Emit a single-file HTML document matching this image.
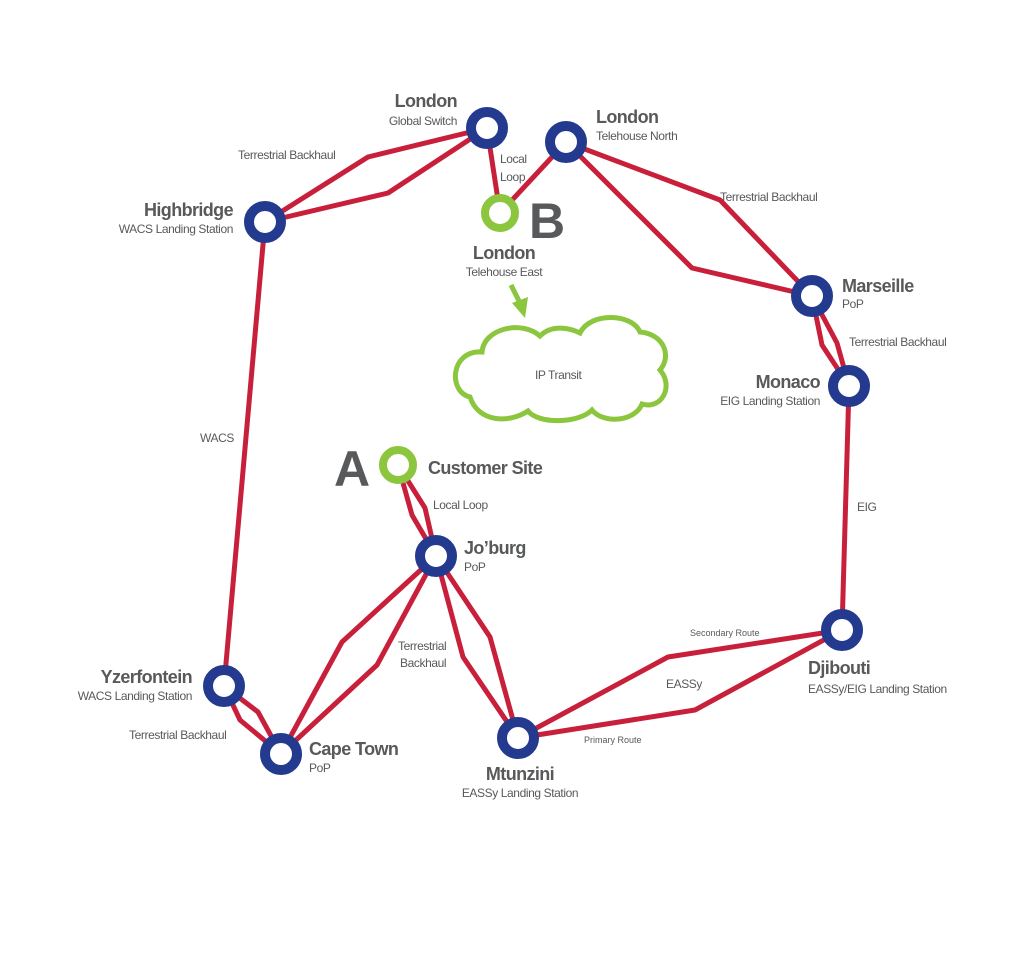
<!DOCTYPE html>
<html><head><meta charset="utf-8"><style>
html,body{margin:0;padding:0;background:#fff;}
svg{display:block;}
text{font-family:"Liberation Sans",sans-serif;fill:#58595b;}
.t{font-size:18px;font-weight:bold;letter-spacing:-0.6px;}
.s{font-size:12px;letter-spacing:-0.4px;}
.l{font-size:12px;letter-spacing:-0.4px;}
.r{fill:none;stroke:#c8203b;stroke-width:5;stroke-linejoin:round;}
.n{fill:#fff;stroke:#233a8e;stroke-width:10;}
.g{fill:#fff;stroke:#8cc63f;stroke-width:8;}
</style></head><body>
<svg width="1024" height="975" viewBox="0 0 1024 975" xmlns="http://www.w3.org/2000/svg">
<polyline class="r" points="487,128 368,157 265,222"/>
<polyline class="r" points="487,128 388,193 265,222"/>
<polyline class="r" points="487,128 500,213"/>
<polyline class="r" points="500,213 566,142"/>
<polyline class="r" points="566,142 720,200 812,296"/>
<polyline class="r" points="566,142 692,268 812,296"/>
<polyline class="r" points="812,296 837,343 849,386"/>
<polyline class="r" points="812,296 822,345 849,386"/>
<polyline class="r" points="849,386 842,630"/>
<polyline class="r" points="265,222 224,686"/>
<polyline class="r" points="224,686 258,712 281,754"/>
<polyline class="r" points="224,686 240,720 281,754"/>
<polyline class="r" points="398,465 412,515 436,556"/>
<polyline class="r" points="398,465 425,508 436,556"/>
<polyline class="r" points="436,556 342,642 281,754"/>
<polyline class="r" points="436,556 377,665 281,754"/>
<polyline class="r" points="436,556 463,657 518,738"/>
<polyline class="r" points="436,556 490,637 518,738"/>
<polyline class="r" points="518,738 668,657 842,630"/>
<polyline class="r" points="518,738 695,710 842,630"/>
<path d="M470,397 C448,392 450,350 482,352 C484,328 522,320 540,336 C552,324 570,328 580,333 C590,312 632,313 640,332 C664,334 672,356 660,370 C674,386 662,410 642,404 C635,422 603,424 592,410 C578,424 538,424 528,411 C508,424 478,422 470,397 Z" fill="#fff" stroke="#8cc63f" stroke-width="5"/>
<text class="s" x="535" y="379">IP Transit</text>
<line x1="511" y1="285" x2="520" y2="303" stroke="#8cc63f" stroke-width="5"/>
<polygon points="512,303 528,297 525,318" fill="#8cc63f"/>
<circle class="n" cx="487" cy="128" r="16"/>
<circle class="n" cx="566" cy="142" r="16"/>
<circle class="n" cx="265" cy="222" r="16"/>
<circle class="n" cx="812" cy="296" r="16"/>
<circle class="n" cx="849" cy="386" r="16"/>
<circle class="n" cx="436" cy="556" r="16"/>
<circle class="n" cx="224" cy="686" r="16"/>
<circle class="n" cx="281" cy="754" r="16"/>
<circle class="n" cx="518" cy="738" r="16"/>
<circle class="n" cx="842" cy="630" r="16"/>
<circle class="g" cx="500" cy="213" r="15"/>
<circle class="g" cx="398" cy="465" r="15"/>
<text x="529" y="238" style="font-size:50px;font-weight:bold;">B</text>
<text x="334" y="486" style="font-size:50px;font-weight:bold;">A</text>
<text class="t" x="457" y="107" text-anchor="end">London</text>
<text class="s" x="457" y="125" text-anchor="end">Global Switch</text>
<text class="t" x="596" y="123">London</text>
<text class="s" x="596" y="140">Telehouse North</text>
<text class="t" x="233" y="216" text-anchor="end">Highbridge</text>
<text class="s" x="233" y="233" text-anchor="end">WACS Landing Station</text>
<text class="t" x="504" y="259" text-anchor="middle">London</text>
<text class="s" x="504" y="276" text-anchor="middle">Telehouse East</text>
<text class="t" x="842" y="292">Marseille</text>
<text class="s" x="842" y="308">PoP</text>
<text class="t" x="820" y="388" text-anchor="end">Monaco</text>
<text class="s" x="820" y="405" text-anchor="end">EIG Landing Station</text>
<text class="t" x="428" y="474">Customer Site</text>
<text class="t" x="464" y="554">Jo’burg</text>
<text class="s" x="464" y="571">PoP</text>
<text class="t" x="192" y="683" text-anchor="end">Yzerfontein</text>
<text class="s" x="192" y="700" text-anchor="end">WACS Landing Station</text>
<text class="t" x="309" y="755">Cape Town</text>
<text class="s" x="309" y="772">PoP</text>
<text class="t" x="520" y="780" text-anchor="middle">Mtunzini</text>
<text class="s" x="520" y="797" text-anchor="middle">EASSy Landing Station</text>
<text class="t" x="808" y="674">Djibouti</text>
<text class="s" x="808" y="693">EASSy/EIG Landing Station</text>
<text class="l" x="238" y="159">Terrestrial Backhaul</text>
<text class="l" x="500" y="163">Local</text>
<text class="l" x="500" y="181">Loop</text>
<text class="l" x="720" y="201">Terrestrial Backhaul</text>
<text class="l" x="849" y="346">Terrestrial Backhaul</text>
<text class="l" x="200" y="442">WACS</text>
<text class="l" x="433" y="509">Local Loop</text>
<text class="l" x="857" y="511">EIG</text>
<text class="l" x="398" y="650">Terrestrial</text>
<text class="l" x="400" y="667">Backhaul</text>
<text style="font-size:9px" x="690" y="636">Secondary Route</text>
<text class="l" x="666" y="688">EASSy</text>
<text style="font-size:9px" x="584" y="743">Primary Route</text>
<text class="l" x="129" y="739">Terrestrial Backhaul</text>
</svg>
</body></html>
